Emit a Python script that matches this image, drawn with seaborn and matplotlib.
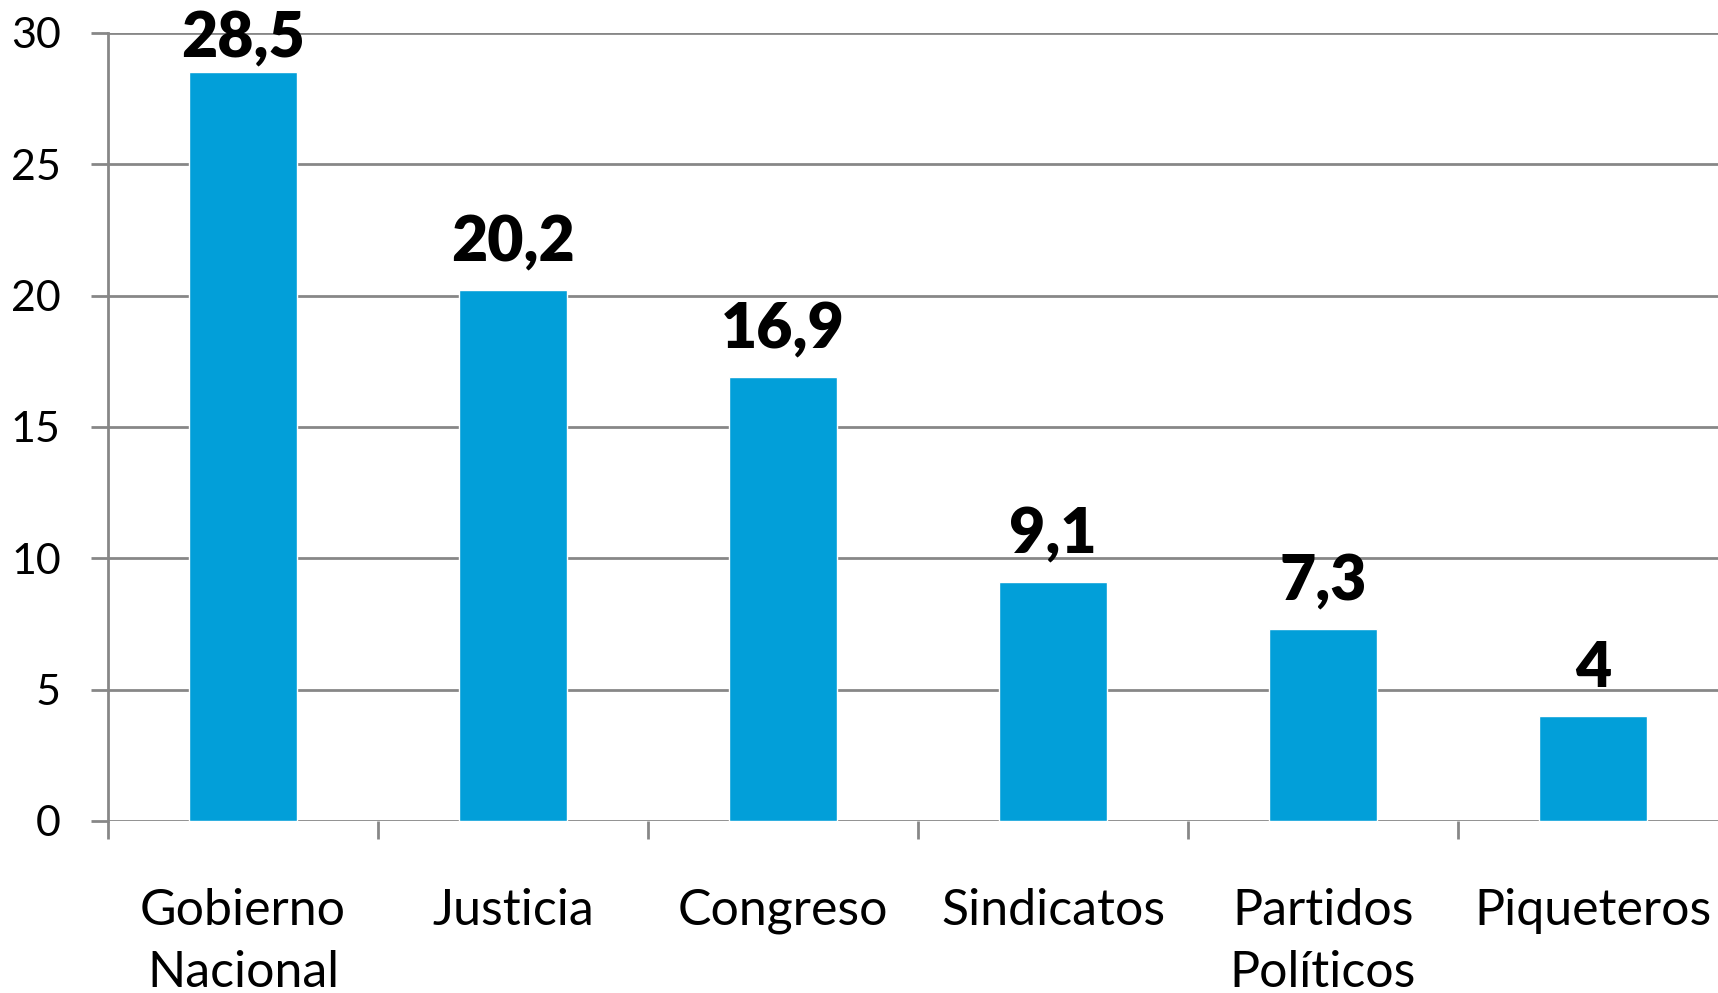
import seaborn as sb
from matplotlib import pyplot as plt
import pandas as pd

# data
categorias = ['Gobierno\nNacional', 'Justicia', 'Congreso', 'Sindicatos',
              'Partidos\nPolíticos', 'Piqueteros']
valores = [28.5, 20.2, 16.9, 9.1, 7.3, 4]
etiquetas = ['28,5', '20,2', '16,9', '9,1', '7,3', '4']

df = pd.DataFrame({'cat': categorias, 'valor': valores})

sb.set_style('white')
plt.rcParams['font.family'] = ['Lato', 'DejaVu Sans']
plt.rcParams['text.color'] = 'black'
plt.rcParams['xtick.labelcolor'] = 'black'
plt.rcParams['ytick.labelcolor'] = 'black'

fig = plt.figure(figsize=(17.18, 9.93), dpi=100)
ax = fig.add_axes([108 / 1718, (993 - 821) / 993, (1718 - 108) / 1718, 788 / 993])

sb.barplot(data=df, x='cat', y='valor', color='#029FD9', width=0.4,
           saturation=1, ax=ax, zorder=3)

ax.set_yticks(range(0, 31, 5))
ax.set_xticks([i - 0.5 for i in range(7)], minor=True)
# limits after the ticks, set_xticks would widen the view otherwise
ax.set_ylim(0, 30)
ax.set_xlim(-0.5, 5.463)
ax.set_xlabel('')
ax.set_ylabel('')

ax.grid(axis='y', color='#878787', linewidth=2, zorder=0)
ax.set_axisbelow(True)
for s in ['top', 'right', 'bottom']:
    ax.spines[s].set_visible(False)
ax.spines['left'].set_color('#878787')
ax.spines['left'].set_linewidth(2)

ax.tick_params(axis='y', left=True, length=12, width=2, color='#878787',
               pad=22, labelsize=31, labelcolor='black')
ax.tick_params(axis='x', which='major', length=0, pad=48, labelsize=36,
               labelcolor='black')
ax.tick_params(axis='x', which='minor', bottom=True, length=13, width=2,
               color='#878787')
for t in ax.get_xticklabels():
    t.set_linespacing(1.45)

# labels sit ~1.1 units above the bar, pushed down if they would leave the figure
for i, (v, lab) in enumerate(zip(valores, etiquetas)):
    ax.text(i, min(v + 1.1, 29.07), lab, ha='center', va='baseline',
            fontsize=45, fontweight='heavy', color='black')

plt.savefig('out.png', dpi=100)
